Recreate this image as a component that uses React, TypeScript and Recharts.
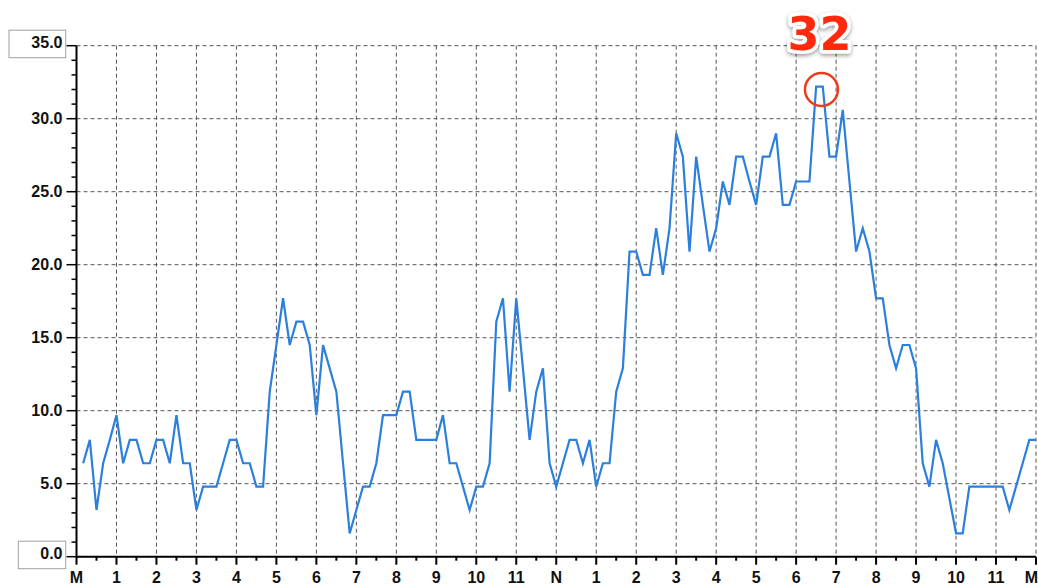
import React from 'react';
import { LineChart, Line, XAxis, YAxis, CartesianGrid, ReferenceDot } from 'recharts';

// wind speed, one reading every 10 minutes from 00:10 to 24:00
const wind = [
  6.4, 8.0, 3.2, 6.4, 8.0, 9.7,
  6.4, 8.0, 8.0, 6.4, 6.4, 8.0,
  8.0, 6.4, 9.7, 6.4, 6.4, 3.2,
  4.8, 4.8, 4.8, 6.4, 8.0, 8.0,
  6.4, 6.4, 4.8, 4.8, 11.3, 14.5,
  17.7, 14.5, 16.1, 16.1, 14.5, 9.7,
  14.5, 12.9, 11.3, 6.4, 1.6, 3.2,
  4.8, 4.8, 6.4, 9.7, 9.7, 9.7,
  11.3, 11.3, 8.0, 8.0, 8.0, 8.0,
  9.7, 6.4, 6.4, 4.8, 3.2, 4.8,
  4.8, 6.4, 16.1, 17.7, 11.3, 17.7,
  12.9, 8.0, 11.3, 12.9, 6.4, 4.8,
  6.4, 8.0, 8.0, 6.4, 8.0, 4.8,
  6.4, 6.4, 11.3, 12.9, 20.9, 20.9,
  19.3, 19.3, 22.5, 19.3, 22.5, 29.0,
  27.4, 20.9, 27.4, 24.1, 20.9, 22.5,
  25.7, 24.1, 27.4, 27.4, 25.7, 24.1,
  27.4, 27.4, 29.0, 24.1, 24.1, 25.7,
  25.7, 25.7, 32.2, 32.2, 27.4, 27.4,
  30.6, 25.7, 20.9, 22.5, 20.9, 17.7,
  17.7, 14.5, 12.9, 14.5, 14.5, 12.9,
  6.4, 4.8, 8.0, 6.4, 4.0, 1.6,
  1.6, 4.8, 4.8, 4.8, 4.8, 4.8,
  4.8, 3.2, 4.8, 6.4, 8.0, 8.0,
];

const hourLabels = ['M', '1', '2', '3', '4', '5', '6', '7', '8', '9', '10', '11',
  'N', '1', '2', '3', '4', '5', '6', '7', '8', '9', '10', '11', 'M'];
const yMajor = [0, 5, 10, 15, 20, 25, 30, 35];
const peak = { t: 1118, v: 32, label: '32' };

const X_MAX = 1440;
const Y_MAX = 35;

const data = wind.map((v, i) => ({ t: (i + 1) * 10, v }));
const xTicks = Array.from({ length: 49 }, (_, i) => i * 30);
const yTicks = Array.from({ length: 36 }, (_, i) => i);

const FONT = "'Liberation Sans', Arial, sans-serif";

// grid only on the major (5 unit / hourly) ticks
const hGrid = ({ offset }: any) => yMajor.map((v) => offset.top + offset.height * (1 - v / Y_MAX));
const vGrid = ({ offset }: any) => hourLabels.map((_, h) => offset.left + offset.width * ((h * 60) / X_MAX));

const XTick = ({ x, y, payload }: any) => {
  const m = payload.value;
  const major = m % 60 === 0;
  const last = m === X_MAX;
  return (
    <g>
      <line x1={x} y1={y} x2={x} y2={y + (major ? 8 : 4)} stroke="#000" strokeWidth={2} />
      {major && (
        <text x={last ? x + 2 : x} y={y + 26} textAnchor={last ? 'end' : 'middle'} fontFamily={FONT}
          fontWeight="bold" fontSize={16} fill="#111">
          {hourLabels[m / 60]}
        </text>
      )}
    </g>
  );
};

const YTick = ({ x, y, payload }: any) => {
  const v = payload.value;
  const major = v % 5 === 0;
  const boxed = v === 0 || v === 35;
  return (
    <g>
      <line x1={x - (major ? 10 : 5)} y1={y} x2={x} y2={y} stroke="#000" strokeWidth={1.5} />
      {boxed && (
        <rect x={v === 35 ? x - 67.5 : x - 58.2} y={y - 15.5} width={v === 35 ? 56.7 : 47.4} height={27.5}
          fill="#fff" stroke="#a0a0a0" strokeWidth={1} />
      )}
      {major && (
        <text x={x - 14} y={boxed ? y - 3.5 : y} dy="0.36em" textAnchor="end" fontFamily={FONT}
          fontWeight="bold" fontSize={16} fill="#111">
          {v.toFixed(1)}
        </text>
      )}
    </g>
  );
};

const PeakMark = ({ cx, cy }: any) => (
  <g>
    <circle cx={cx} cy={cy} r={16.5} fill="none" stroke="#ef3b1d" strokeWidth={2.5} />
    <text x={cx - 2} y={cy - 40} textAnchor="middle" fontFamily="'DejaVu Sans', sans-serif" fontWeight="bold"
      fontSize={46} fill="#ff2a08" stroke="#fff" strokeWidth={7} strokeLinejoin="round"
      paintOrder="stroke" filter="url(#peakShadow)">
      {peak.label}
    </text>
  </g>
);

export default function App() {
  return (
    <div style={{ position: 'absolute', left: 0, top: 0, background: '#fff' }}>
      <LineChart width={1038} height={585} data={data} margin={{ top: 45.7, right: 2, bottom: 0, left: 0 }}>
        <defs>
          <filter id="peakShadow" x="-30%" y="-30%" width="160%" height="170%">
            <feDropShadow dx="0" dy="2" stdDeviation="2" floodColor="#000" floodOpacity="0.4" />
          </filter>
        </defs>
        <CartesianGrid
          stroke="#555"
          strokeDasharray="4 3"
          horizontalCoordinatesGenerator={hGrid}
          verticalCoordinatesGenerator={vGrid}
        />
        <XAxis
          dataKey="t"
          type="number"
          domain={[0, X_MAX]}
          ticks={xTicks}
          interval={0}
          height={28.3}
          tickSize={0}
          tickMargin={0}
          tickLine={false}
          axisLine={{ stroke: '#000', strokeWidth: 2 }}
          tick={<XTick />}
        />
        <YAxis
          type="number"
          domain={[0, Y_MAX]}
          ticks={yTicks}
          interval={0}
          width={76.5}
          tickSize={0}
          tickMargin={0}
          tickLine={false}
          axisLine={{ stroke: '#000', strokeWidth: 2 }}
          tick={<YTick />}
        />
        <Line
          type="linear"
          dataKey="v"
          stroke="#2b7fdd"
          strokeWidth={2.2}
          dot={false}
          activeDot={false}
          isAnimationActive={false}
        />
        <ReferenceDot x={peak.t} y={peak.v} r={16.5} shape={<PeakMark />} />
      </LineChart>
    </div>
  );
}
